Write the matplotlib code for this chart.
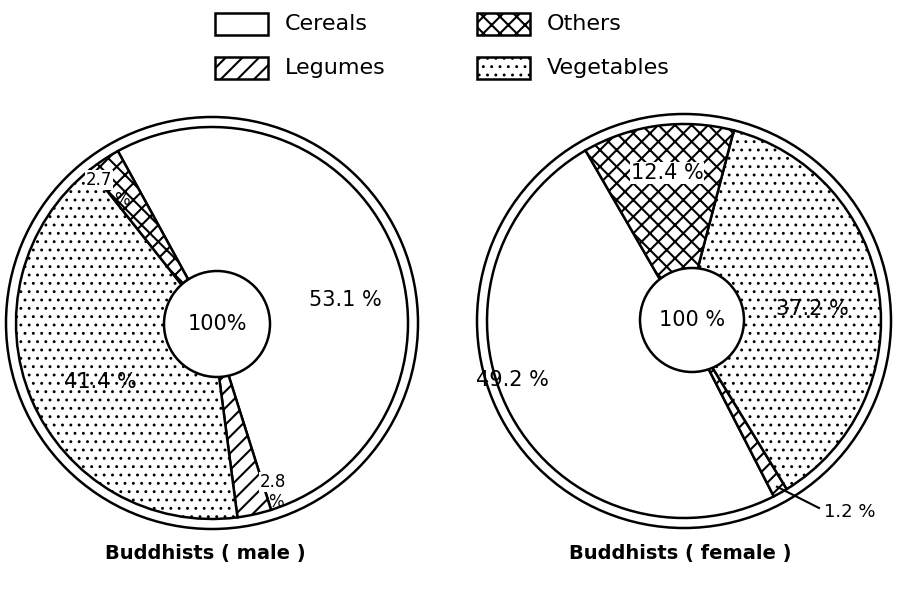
import matplotlib
matplotlib.use('Agg')
import matplotlib.pyplot as plt
import numpy as np
from matplotlib.patches import Circle, Rectangle

# diet composition of the two groups (percent of intake)
categories = ['Cereals', 'Legumes', 'Vegetables', 'Others']
male_share = [53.1, 2.8, 41.4, 2.7]
female_share = [49.2, 1.2, 37.2, 12.4]
hatches = ['', '//', '..', 'xx']
titles = ['Buddhists ( male )', 'Buddhists ( female )']
center_label = ['100%', '100 %']

H = 596  # figure height in px, image y runs downward

plt.rcParams['font.family'] = ['DejaVu Sans']
plt.rcParams['hatch.linewidth'] = 1.5
plt.rcParams['hatch.color'] = 'black'

fig = plt.figure(figsize=(9, 5.96), dpi=100)
ax = fig.add_axes([0, 0, 1, 1])


def thin_dots(patch, h):
    # stipple looks finer with a thinner hatch stroke
    if h == '..' and hasattr(patch, 'set_hatch_linewidth'):
        patch.set_hatch_linewidth(0.9)


def draw_pie(shares, center, start, ccw, r_in, r_out, r_mid, mid_xy):
    wedges, _ = ax.pie(shares, center=center, radius=r_in, startangle=start,
                       counterclock=ccw, colors=['white'] * len(shares),
                       wedgeprops=dict(edgecolor='black', linewidth=1.8))
    for w, h in zip(wedges, hatches):
        w.set_hatch(h)
        thin_dots(w, h)
    ax.add_patch(Circle(center, r_out, fill=False, edgecolor='black', lw=1.8))
    ax.add_patch(Circle(mid_xy, r_mid, facecolor='white', edgecolor='black',
                        lw=1.8, zorder=3))
    return wedges


# left pie: male
draw_pie(male_share, (212, H - 323), 118.7, False, 196, 206, 53, (217, H - 324))
# right pie: female
fem_center = (684, H - 321)
fem_wedges = draw_pie(female_share, fem_center, 120, True, 197, 207, 52, (692, H - 320))

txt = dict(ha='center', va='center', fontsize=15, zorder=4)
wb = dict(facecolor='white', edgecolor='none', pad=0.5)
ax.text(217, H - 324, center_label[0], **txt)
ax.text(692, H - 320, center_label[1], **txt)

# male labels
ax.text(345, H - 300, '%.1f %%' % male_share[0], **txt)
ax.text(100, H - 382, '%.1f %%' % male_share[2], **txt)
ax.text(99, H - 180, '%.1f' % male_share[3], ha='center', va='center',
        fontsize=12, bbox=wb)
ax.text(122, H - 200, '%', ha='center', va='center', fontsize=12)
ax.text(273, H - 482, '%.1f' % male_share[1], ha='center', va='center',
        fontsize=12, bbox=wb)
ax.text(276, H - 502, '%', ha='center', va='center', fontsize=12)

# female labels
ax.text(667, H - 173, '%.1f %%' % female_share[3], bbox=wb, **txt)
ax.text(812, H - 309, '%.1f %%' % female_share[2], **txt)
ax.text(512, H - 380, '%.1f %%' % female_share[0], **txt)
ax.text(850, H - 512, '%.1f %%' % female_share[1], ha='center', va='center', fontsize=13)
leg_w = fem_wedges[1]
mid = np.deg2rad((leg_w.theta1 + leg_w.theta2) / 2)
ax.plot([fem_center[0] + 190 * np.cos(mid), 819],
        [fem_center[1] + 190 * np.sin(mid), H - 508], color='black', lw=1.5)

# legend boxes, laid out 2 x 2
legend_xy = [(215, 13), (215, 57), (477, 57), (477, 13)]
for cat, h, (lx, ly) in zip(categories, hatches, legend_xy):
    r = Rectangle((lx, H - ly - 22), 53, 22, facecolor='white',
                  edgecolor='black', hatch=h, lw=1.8)
    thin_dots(r, h)
    ax.add_patch(r)
    ax.text(lx + 70, H - ly - 11, cat, ha='left', va='center', fontsize=16)

ax.text(205, H - 553, titles[0], ha='center', va='center', fontsize=14, fontweight='bold')
ax.text(680, H - 553, titles[1], ha='center', va='center', fontsize=14, fontweight='bold')

ax.set_xlim(0, 900)
ax.set_ylim(0, H)
ax.set_aspect('auto')
ax.axis('off')

fig.savefig('out.png', dpi=100)
